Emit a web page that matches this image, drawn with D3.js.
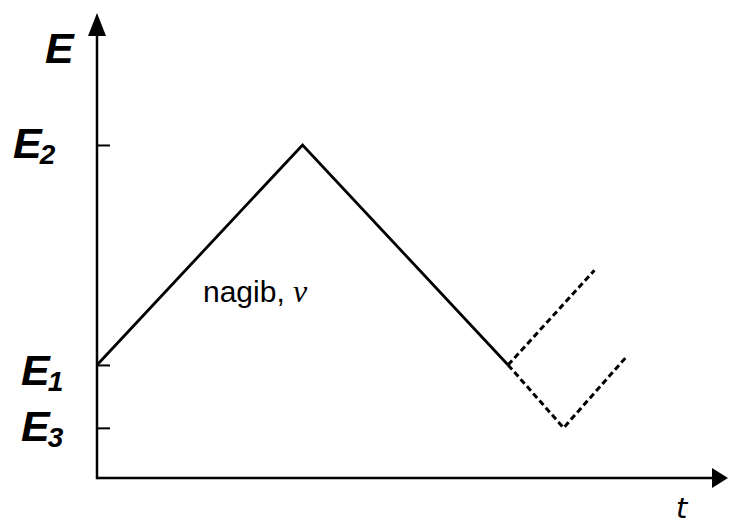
<!DOCTYPE html>
<html>
<head>
<meta charset="utf-8">
<script src="https://cdn.jsdelivr.net/npm/d3@7"></script>
<style>
    body { margin: 0; background: #fff; }
    svg { display: block; }
    .axis-line { stroke: #000; stroke-width: 2.5; fill: none; }
    .sweep { stroke: #000; stroke-width: 2.8; fill: none; stroke-linejoin: miter; }
    .sweep.dashed { stroke-width: 3; stroke-dasharray: 6 3.5; }
    .elabel { font-family: "Liberation Sans", Arial, sans-serif; font-weight: bold; font-style: italic; fill: #000; }
</style>
</head>
<body>
<div id="chart"></div>
<script>
// potencijali (E1 = 0, E2 = 1), vrijeme u jedinicama polu-ciklusa
const levelNames = ["E2", "E1", "E3"];
const levelValues = [1, 0, -0.286];

// puni trokutasti val
const sweepT = [0, 1, 2];
const sweepE = [0, 1, 0];

// isprekidani nastavci
const branchUpT = [2, 2.42];
const branchUpE = [0, 0.43];
const branchDownT = [2, 2.27, 2.575];
const branchDownE = [0, -0.286, 0.036];

const width = 730, height = 522;
const svg = d3.select("#chart").append("svg")
    .attr("width", width)
    .attr("height", height);

const x = d3.scaleLinear().domain([0, 3.07]).range([97, 728]);
const y = d3.scaleLinear().domain([-0.514, 1.6]).range([478, 13]);

const zip = (ts, es) => ts.map((t, i) => [t, es[i]]);
const line = d3.line().x(d => x(d[0])).y(d => y(d[1]));

// osi
const yTop = y.range()[1];
const xRight = x.range()[1];
const yBase = y(y.domain()[0]);

svg.append("line").attr("class", "axis-line")
    .attr("x1", x(0)).attr("x2", x(0))
    .attr("y1", yBase + 1.25).attr("y2", yTop + 18);
svg.append("line").attr("class", "axis-line")
    .attr("x1", x(0)).attr("x2", xRight - 14)
    .attr("y1", yBase).attr("y2", yBase);

// strelice
svg.append("path")
    .attr("d", `M${x(0)},${yTop} L${x(0) - 9},${yTop + 23} L${x(0) + 9},${yTop + 23} Z`)
    .attr("fill", "#000");
svg.append("path")
    .attr("d", `M${xRight},${yBase} L${xRight - 16},${yBase - 10} L${xRight - 16},${yBase + 10} Z`)
    .attr("fill", "#000");

// crtice na osi E
svg.append("g")
    .attr("transform", `translate(${x(0)},0)`)
    .call(d3.axisLeft(y).tickValues(levelValues).tickSize(-13).tickFormat(""))
    .call(g => g.select(".domain").remove())
    .call(g => g.selectAll(".tick line").attr("stroke", "#000").attr("stroke-width", 2));

// oznake E, E2, E1, E3
svg.append("text").attr("class", "elabel")
    .attr("x", 45).attr("y", 63)
    .attr("font-size", 43)
    .text("E");

const nudge = { E2: [13, 13], E1: [21, 20], E3: [21, 13] };
levelNames.forEach((name, i) => {
    const t = svg.append("text").attr("class", "elabel")
        .attr("x", nudge[name][0])
        .attr("y", y(levelValues[i]) + nudge[name][1])
        .attr("font-size", 43);
    t.append("tspan").text("E");
    t.append("tspan").attr("font-size", 28).attr("dy", 6).attr("dx", -2).text(name.slice(1));
});

// krivulje
svg.append("path").attr("class", "sweep").attr("d", line(zip(sweepT, sweepE)));
svg.append("path").attr("class", "sweep dashed").attr("d", line(zip(branchUpT, branchUpE)));
svg.append("path").attr("class", "sweep dashed").attr("d", line(zip(branchDownT, branchDownE)));

// natpis nagiba
const lbl = svg.append("text")
    .attr("x", 203).attr("y", 302)
    .attr("font-family", "Liberation Sans, Arial, sans-serif")
    .attr("font-size", 30)
    .text("nagib, ");
lbl.append("tspan")
    .attr("font-family", "Liberation Serif, Times New Roman, serif")
    .attr("font-style", "italic")
    .attr("font-size", 32)
    .text("v");

// os t
svg.append("text")
    .attr("x", 676).attr("y", 518)
    .attr("font-family", "DejaVu Sans, sans-serif")
    .attr("font-style", "italic")
    .attr("font-size", 29)
    .text("t");
</script>
</body>
</html>
